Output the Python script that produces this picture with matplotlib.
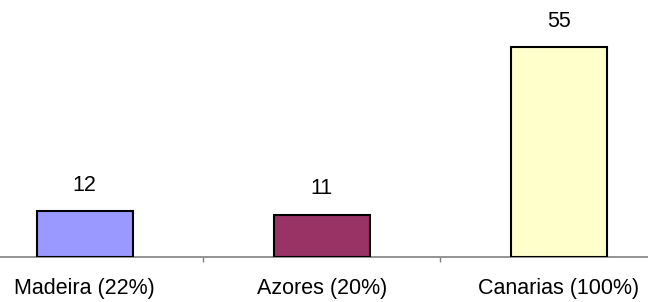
import matplotlib
matplotlib.use("Agg")
import matplotlib.pyplot as plt

categories = ["Madeira (22%)", "Azores (20%)", "Canarias (100%)"]
values = [12, 11, 55]
colors = ["#9999FF", "#993366", "#FFFFCC"]

plt.rcParams['font.family'] = ['Liberation Sans', 'DejaVu Sans']

W, H = 648, 302
fig = plt.figure(figsize=(W / 100, H / 100), dpi=100)
left_px, width_px = -34, 711.5
base_px = 256.7
ymax = 60
px_per_unit = (256.7 - 47) / 55
ax = fig.add_axes([left_px / W, (H - base_px) / H, width_px / W, ymax * px_per_unit / H])

x = list(range(len(categories)))
ax.bar(x, values, width=0.405, color=colors, edgecolor="black", linewidth=1.5, zorder=3)
for xi, v in zip(x, values):
    ax.annotate(str(v), (xi, v), xytext=(0, 11), textcoords="offset points",
                ha="center", va="bottom", fontsize=15.5, color="black")

ax.set_xlim(-0.5, len(categories) - 0.5)
ax.set_ylim(0, ymax)
for s in ["top", "left", "right"]:
    ax.spines[s].set_visible(False)
ax.spines["bottom"].set_color("#808080")
ax.spines["bottom"].set_linewidth(1.2)
ax.set_yticks([])
ax.set_xticks([i + 0.5 for i in range(-1, len(categories))])
ax.set_xticklabels([])
ax.tick_params(axis="x", which="major", direction="out", length=3.5, color="#808080", width=1)
ax.set_xticks(x, minor=True)
ax.set_xticklabels(categories, minor=True, fontsize=15.5)
ax.tick_params(axis="x", which="minor", length=0, pad=15)

fig.savefig("out.png", dpi=100)
